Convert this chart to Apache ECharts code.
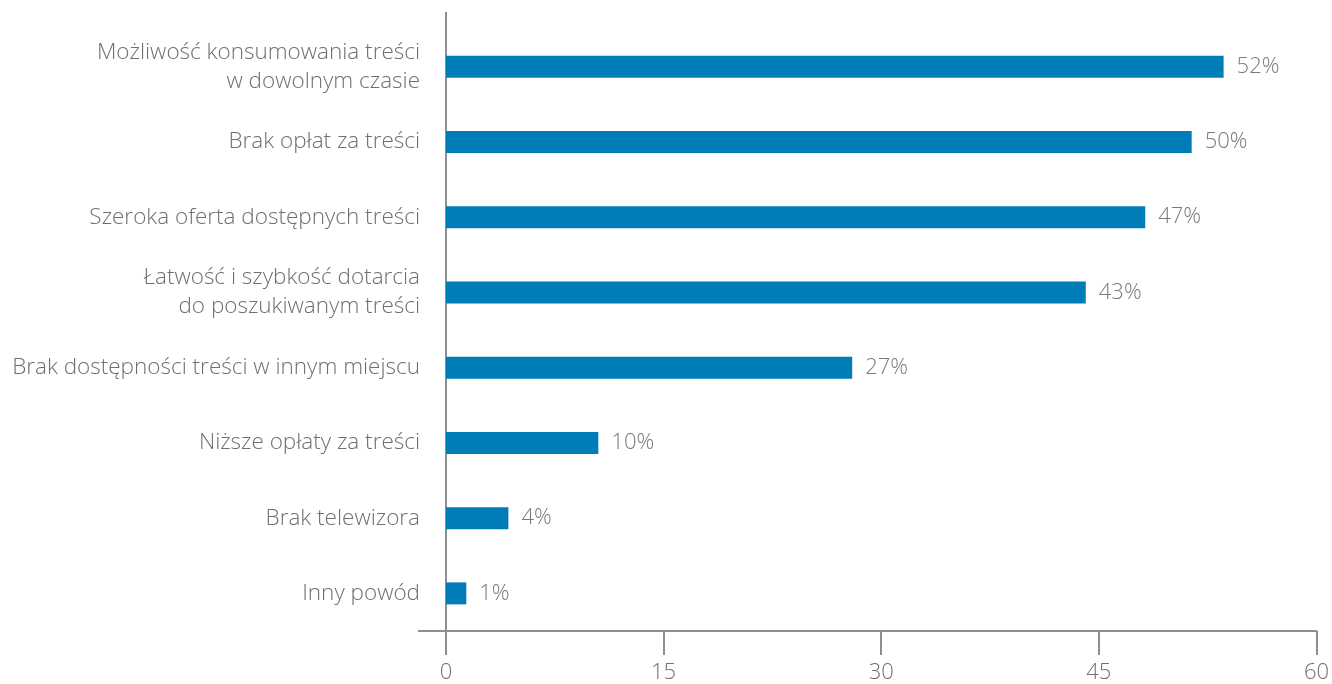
<!DOCTYPE html>
<html>
<head>
<meta charset="utf-8">
<script src="https://cdn.jsdelivr.net/npm/echarts@6/dist/echarts.min.js"></script>
<style>
  html, body { margin: 0; padding: 0; background: #fff; }
  #chart { width: 1332px; height: 684px; }
</style>
</head>
<body>
<div id="chart"></div>
<script>
var categories = [
    'Możliwość konsumowania treści\nw dowolnym czasie',
    'Brak opłat za treści',
    'Szeroka oferta dostępnych treści',
    'Łatwość i szybkość dotarcia\ndo poszukiwanym treści',
    'Brak dostępności treści w innym miejscu',
    'Niższe opłaty za treści',
    'Brak telewizora',
    'Inny powód'
];
// bar lengths as drawn in the picture
var values = [53.6, 51.4, 48.2, 44.1, 28.0, 10.5, 4.3, 1.4];
// printed labels
var valueLabels = ['52%', '50%', '47%', '43%', '27%', '10%', '4%', '1%'];
var xTicks = { min: 0, max: 60, interval: 15 };

var dom = document.getElementById('chart');
var myChart = echarts.init(dom);
var axisColor = '#8c8e90';
var textColor = '#6f6f6f';
var font = '"Open Sans", sans-serif';

var option = {
    animation: false,
    textStyle: { fontFamily: font, fontWeight: 300 },
    grid: { left: 446, right: 12, top: 29, bottom: 53 },
    xAxis: {
        type: 'value',
        min: xTicks.min,
        max: xTicks.max,
        interval: xTicks.interval,
        splitLine: { show: false },
        axisLine: { show: true, lineStyle: { color: axisColor, width: 2 } },
        axisTick: { show: true, length: 24, lineStyle: { color: axisColor, width: 2 } },
        axisLabel: {
            margin: 31,
            color: textColor,
            fontSize: 22,
            fontFamily: font,
            fontWeight: 300,
            showMinLabel: true,
            showMaxLabel: true
        }
    },
    yAxis: {
        type: 'category',
        inverse: true,
        data: categories,
        axisLine: { show: true, lineStyle: { color: axisColor, width: 2 } },
        axisTick: { show: false },
        axisLabel: {
            margin: 26,
            color: textColor,
            fontSize: 22.5,
            lineHeight: 29,
            fontFamily: font,
            fontWeight: 300,
            align: 'right'
        }
    },
    series: [
        {
            type: 'bar',
            data: values,
            barWidth: 22,
            itemStyle: { color: '#007cb7' },
            label: {
                show: true,
                position: 'right',
                distance: 13,
                color: '#7a7a7a',
                fontSize: 22,
                fontFamily: font,
                fontWeight: 300,
                formatter: function (p) { return valueLabels[p.dataIndex]; }
            }
        }
    ],
    graphic: [
        // axis line extensions beyond the plot area
        { type: 'line', shape: { x1: 446, y1: 12, x2: 446, y2: 29 }, style: { stroke: axisColor, lineWidth: 2 } },
        { type: 'line', shape: { x1: 418, y1: 631, x2: 446, y2: 631 }, style: { stroke: axisColor, lineWidth: 2 } }
    ]
};

if (option && typeof option === "object") {
    myChart.setOption(option, true);
}
</script>
</body>
</html>
